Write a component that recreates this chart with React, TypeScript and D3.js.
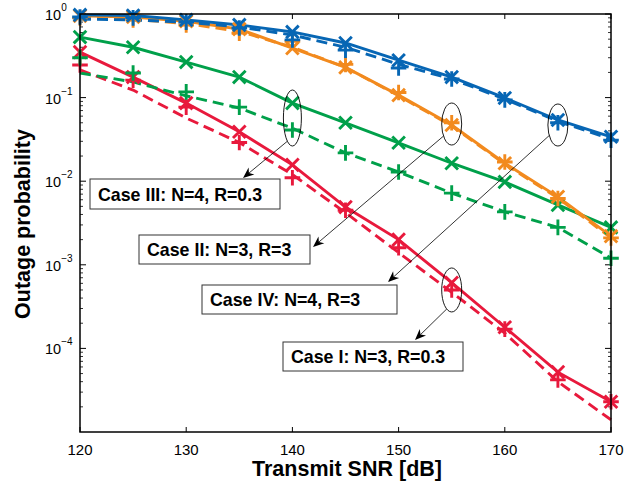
import React from 'react';
import * as d3 from 'd3';

// x axis: transmit SNR in dB
const snr = [120, 125, 130, 135, 140, 145, 150, 155, 160, 165, 170];
const xTicks = [120, 130, 140, 150, 160, 170];
const yExponents = [0, -1, -2, -3, -4];

// Case I: N=3, R=0.3 (red)
const caseISolid = [0.35, 0.176, 0.086, 0.039, 0.0157, 0.0049, 0.002, 0.00061, 0.000179, 5.2e-5, 2.3e-5];
const caseIDashed = [0.214, 0.123, 0.057, 0.029, 0.012, 0.0042, 0.0014, 0.00047, 0.000152, 4.0e-5, 1.4e-5];
const caseIPlus = [0.245, 0.162, 0.077, 0.029, 0.011, 0.0045, 0.0016, 0.0005, 0.00017, 4.2e-5, 2.3e-5];

// Case II: N=3, R=3 (orange)
const caseIISolid = [0.95, 0.92, 0.82, 0.66, 0.39, 0.23, 0.107, 0.047, 0.0164, 0.0065, 0.0022];
const caseIIDashed = [0.9, 0.86, 0.77, 0.62, 0.4, 0.23, 0.105, 0.046, 0.016, 0.0063, 0.0021];
const caseIIPlus = [0.9, 0.85, 0.74, 0.59, 0.47, 0.25, 0.115, 0.05, 0.017, 0.0062, 0.0021];

// Case III: N=4, R=0.3 (green)
const caseIIISolid = [0.53, 0.4, 0.266, 0.176, 0.086, 0.05, 0.0288, 0.0164, 0.0098, 0.0052, 0.0028];
const caseIIIDashed = [0.197, 0.154, 0.105, 0.075, 0.043, 0.0218, 0.0129, 0.0072, 0.0043, 0.0028, 0.0012];
const caseIIIPlus = [0.3, 0.197, 0.117, 0.077, 0.041, 0.0218, 0.0129, 0.0072, 0.0043, 0.0028, 0.0012];

// Case IV: N=4, R=3 (blue)
const caseIVSolid = [0.975, 0.96, 0.85, 0.74, 0.61, 0.45, 0.28, 0.176, 0.099, 0.054, 0.034];
const caseIVDashed = [0.87, 0.85, 0.8, 0.7, 0.56, 0.4, 0.25, 0.167, 0.096, 0.052, 0.032];
const caseIVPlus = [0.92, 0.9, 0.8, 0.68, 0.49, 0.37, 0.226, 0.167, 0.094, 0.05, 0.031];

const series = [
  { color: '#E8193C', solid: caseISolid, dashed: caseIDashed, plus: caseIPlus },
  { color: '#00A04A', solid: caseIIISolid, dashed: caseIIIDashed, plus: caseIIIPlus },
  { color: '#F28A1E', solid: caseIISolid, dashed: caseIIDashed, plus: caseIIPlus },
  { color: '#0766B4', solid: caseIVSolid, dashed: caseIVDashed, plus: caseIVPlus },
];

// annotation: ellipse around a group of points, arrow to a labelled box
const notes = [
  { label: 'Case III: N=4, R=0.3', at: 140, value: 0.057, rx: 9, ry: 28, theta: 124, box: [90, 179, 190, 30], tip: [243, 178] },
  { label: 'Case II: N=3, R=3', at: 155, value: 0.0483, rx: 10, ry: 21, theta: 145, box: [139, 235, 171, 29], tip: [313, 247] },
  { label: 'Case IV: N=4, R=3', at: 165, value: 0.047, rx: 10, ry: 21, theta: 150, box: [202, 285, 195, 29], tip: [388, 282] },
  { label: 'Case I: N=3, R=0.3', at: 155, value: 0.0005, rx: 10, ry: 22, theta: 120, box: [283, 342, 180, 29], tip: [415, 340] },
];

const W = 643;
const H = 487;
const left = 80;
const right = 611;
const top = 14;
const bottom = 432;
const font = '"Liberation Sans", Arial, Helvetica, sans-serif';

const x = d3.scaleLinear().domain([120, 170]).range([left, right]);
const y = d3.scaleLog().domain([1e-5, 1]).range([bottom, top]);

const line = d3.line<number>()
  .x((d, i) => x(snr[i]))
  .y(d => y(d));

const Cross = ({ cx, cy, color }) => {
  const s = 6.3;
  return (
    <path d={`M${cx - s},${cy - s}L${cx + s},${cy + s}M${cx - s},${cy + s}L${cx + s},${cy - s}`}
      stroke={color} strokeWidth={2.9} fill="none" />
  );
};

const Plus = ({ cx, cy, color }) => {
  const s = 7.8;
  return (
    <path d={`M${cx - s},${cy}L${cx + s},${cy}M${cx},${cy - s}L${cx},${cy + s}`}
      stroke={color} strokeWidth={2.9} fill="none" />
  );
};

const Arrow = ({ x1, y1, x2, y2 }) => {
  const ang = Math.atan2(y2 - y1, x2 - x1);
  const len = 11;
  const half = 4.5;
  const bx = x2 - len * Math.cos(ang);
  const by = y2 - len * Math.sin(ang);
  const nx = -Math.sin(ang);
  const ny = Math.cos(ang);
  const ix = x2 - len * 0.7 * Math.cos(ang);
  const iy = y2 - len * 0.7 * Math.sin(ang);
  const head = `M${x2},${y2}L${bx + nx * half},${by + ny * half}L${ix},${iy}L${bx - nx * half},${by - ny * half}Z`;
  return (
    <g>
      <line x1={x1} y1={y1} x2={ix} y2={iy} stroke="#000" strokeWidth={0.8} />
      <path d={head} fill="#000" />
    </g>
  );
};

export default function App() {
  // minor log ticks on left/right
  const minor: number[] = [];
  for (let e = -5; e < 0; e++) {
    for (let m = 2; m <= 9; m++) minor.push(m * Math.pow(10, e));
  }

  return (
    <svg width={W} height={H} style={{ position: 'absolute', left: 0, top: 0, background: '#fff' }}
      fontFamily={font}>
      <rect x={0} y={0} width={W} height={H} fill="#fff" />

      {/* axis ticks */}
      {xTicks.map(t => (
        <g key={'xt' + t}>
          <line x1={x(t)} x2={x(t)} y1={bottom} y2={bottom - 5} stroke="#000" strokeWidth={1} />
          <line x1={x(t)} x2={x(t)} y1={top} y2={top + 5} stroke="#000" strokeWidth={1} />
          <text x={x(t)} y={455} textAnchor="middle" fontSize={15}>{t}</text>
        </g>
      ))}
      {yExponents.map(e => (
        <g key={'yt' + e}>
          <line x1={left} x2={left + 6} y1={y(Math.pow(10, e))} y2={y(Math.pow(10, e))} stroke="#000" strokeWidth={1} />
          <line x1={right} x2={right - 6} y1={y(Math.pow(10, e))} y2={y(Math.pow(10, e))} stroke="#000" strokeWidth={1} />
          <text x={45} y={y(Math.pow(10, e)) + 6} fontSize={14.5}>
            10<tspan dy={-9} fontSize={10}>{e === 0 ? '0' : '\u2212' + Math.abs(e)}</tspan>
          </text>
        </g>
      ))}
      {minor.map((v, i) => (
        <g key={'mt' + i}>
          <line x1={left} x2={left + 3} y1={y(v)} y2={y(v)} stroke="#000" strokeWidth={0.8} />
          <line x1={right} x2={right - 3} y1={y(v)} y2={y(v)} stroke="#000" strokeWidth={0.8} />
        </g>
      ))}

      {/* curves */}
      {series.map((s, k) => (
        <g key={'s' + k}>
          <path d={line(s.dashed) || ''} fill="none" stroke={s.color} strokeWidth={2.9} strokeDasharray="11,6" />
          <path d={line(s.solid) || ''} fill="none" stroke={s.color} strokeWidth={2.9} />
        </g>
      ))}
      {series.map((s, k) => (
        <g key={'m' + k}>
          {s.plus.map((v, i) => <Plus key={'p' + i} cx={x(snr[i])} cy={y(v)} color={s.color} />)}
          {s.solid.map((v, i) => <Cross key={'c' + i} cx={x(snr[i])} cy={y(v)} color={s.color} />)}
        </g>
      ))}

      {/* frame */}
      <rect x={left} y={top} width={right - left} height={bottom - top} fill="none" stroke="#000" strokeWidth={1.5} />

      {/* annotations */}
      {notes.map((n, i) => {
        const cx = x(n.at);
        const cy = y(n.value);
        const th = (n.theta * Math.PI) / 180;
        const sx = cx + n.rx * Math.cos(th);
        const sy = cy + n.ry * Math.sin(th);
        const [bx, by, bw, bh] = n.box;
        return (
          <g key={'n' + i}>
            <ellipse cx={cx} cy={cy} rx={n.rx} ry={n.ry} fill="none" stroke="#000" strokeWidth={0.9} />
            <Arrow x1={sx} y1={sy} x2={n.tip[0]} y2={n.tip[1]} />
            <rect x={bx} y={by} width={bw} height={bh} fill="#fff" stroke="#333" strokeWidth={1} />
            <text x={bx + 8} y={by + bh / 2 + 6.5} fontSize={17.8} fontWeight="bold">{n.label}</text>
          </g>
        );
      })}

      {/* axis titles */}
      <text x={347} y={476} textAnchor="middle" fontSize={21.5} fontWeight="bold">Transmit SNR [dB]</text>
      <text transform="translate(30,224) rotate(-90)" textAnchor="middle" fontSize={21.5} fontWeight="bold">Outage probability</text>
    </svg>
  );
}
